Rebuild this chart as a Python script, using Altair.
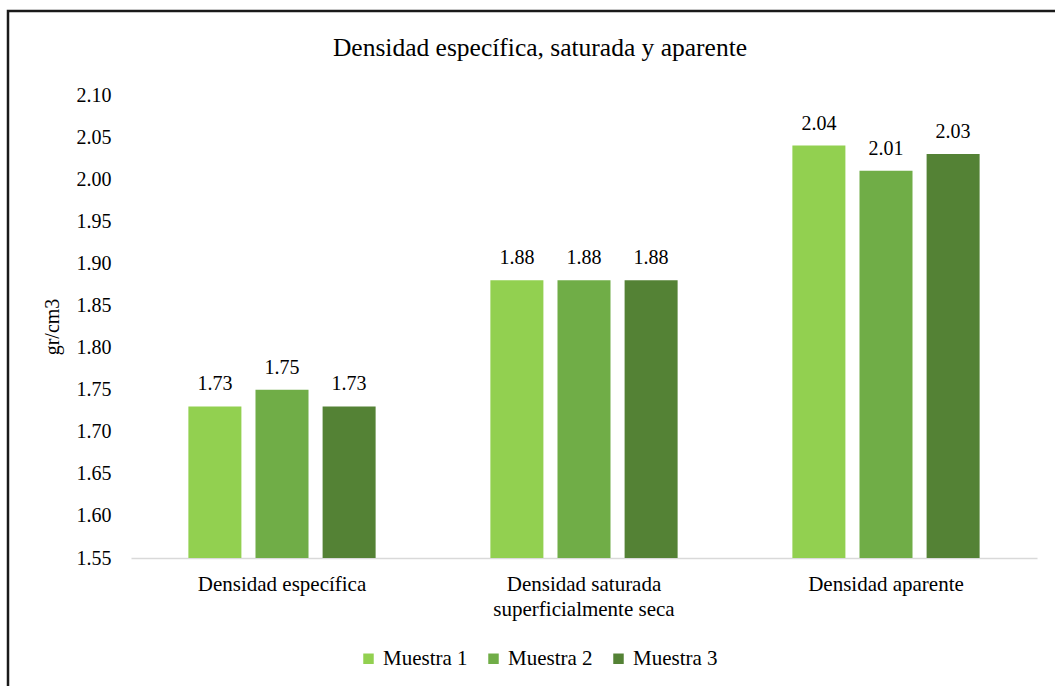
import altair as alt
import pandas as pd

categories = ["Densidad específica", "Densidad saturada superficialmente seca", "Densidad aparente"]
series = ["Muestra 1", "Muestra 2", "Muestra 3"]
muestra1 = [1.73, 1.88, 2.04]
muestra2 = [1.75, 1.88, 2.01]
muestra3 = [1.73, 1.88, 2.03]
colors = ["#92D050", "#70AD47", "#548235"]
y_ticks = [1.55, 1.60, 1.65, 1.70, 1.75, 1.80, 1.85, 1.90, 1.95, 2.00, 2.05, 2.10]

rows = []
for s, vals in zip(series, [muestra1, muestra2, muestra3]):
    for c, v in zip(categories, vals):
        rows.append({"categoria": c, "serie": s, "valor": v})
df = pd.DataFrame(rows)

FONT = "Liberation Serif"

x_enc = alt.X(
    "categoria:N",
    sort=categories,
    scale=alt.Scale(paddingInner=0.38, paddingOuter=0.19),
    axis=alt.Axis(
        title=None,
        labelAngle=0,
        labelExpr="datum.label == 'Densidad saturada superficialmente seca' ? ['Densidad saturada', 'superficialmente seca'] : datum.label",
        labelFont=FONT,
        labelFontSize=21,
        labelColor="#000000",
        labelPadding=15,
        labelLineHeight=25,
        labelLimit=400,
        ticks=False,
        domainColor="#d9d9d9",
        domainWidth=1.5,
    ),
)
xoff_enc = alt.XOffset("serie:N", sort=series, scale=alt.Scale(paddingInner=0.21, paddingOuter=0))
y_enc = alt.Y(
    "valor:Q",
    scale=alt.Scale(domain=[1.55, 2.10], zero=False, nice=False),
    axis=alt.Axis(
        title="gr/cm3",
        values=y_ticks,
        format=".2f",
        grid=False,
        domain=False,
        ticks=False,
        labelFont=FONT,
        labelFontSize=20,
        labelColor="#000000",
        labelPadding=20,
        titleFont=FONT,
        titleFontSize=20,
        titleFontWeight="normal",
        titleColor="#000000",
        titlePadding=14,
    ),
)

bars = alt.Chart(df).mark_bar(clip=True).encode(
    x=x_enc,
    xOffset=xoff_enc,
    y=y_enc,
    y2=alt.datum(1.55),
    color=alt.Color(
        "serie:N",
        sort=series,
        scale=alt.Scale(domain=series, range=colors),
        legend=alt.Legend(
            title=None,
            orient="none",
            direction="horizontal",
            legendX=227,
            legendY=553,
            symbolType="square",
            symbolSize=110,
            symbolStrokeWidth=0,
            labelFont=FONT,
            labelFontSize=21,
            labelColor="#000000",
            labelOffset=4,
            columnPadding=15,
        ),
    ),
)

labels = alt.Chart(df).mark_text(
    baseline="bottom", dy=-12, font=FONT, fontSize=20, color="#000000"
).encode(
    x=alt.X("categoria:N", sort=categories),
    xOffset=alt.XOffset("serie:N", sort=series),
    y=alt.Y("valor:Q"),
    text=alt.Text("valor:Q", format=".2f"),
)

frame_df = pd.DataFrame({"k": [0]})
frame = alt.Chart(frame_df).mark_rect(fill=None, stroke="#1a1a1a", strokeWidth=2.5).encode(
    x=alt.value(-123), x2=alt.value(1100), y=alt.value(-84), y2=alt.value(700)
)

chart = alt.layer(frame, bars, labels).properties(
    width=906,
    height=463,
    background="#ffffff",
    padding={"left": 131, "top": 95, "right": 18, "bottom": 128},
    autosize=alt.AutoSizeParams(type="none"),
    title=alt.TitleParams(
        "Densidad específica, saturada y aparente",
        font=FONT,
        fontSize=25.5,
        fontWeight="normal",
        color="#000000",
        anchor="middle",
        offset=-52,
        dx=-44,
    ),
).configure_view(stroke="transparent", strokeWidth=0)

chart.save("out.html", embed_options={"renderer": "svg", "actions": False})
